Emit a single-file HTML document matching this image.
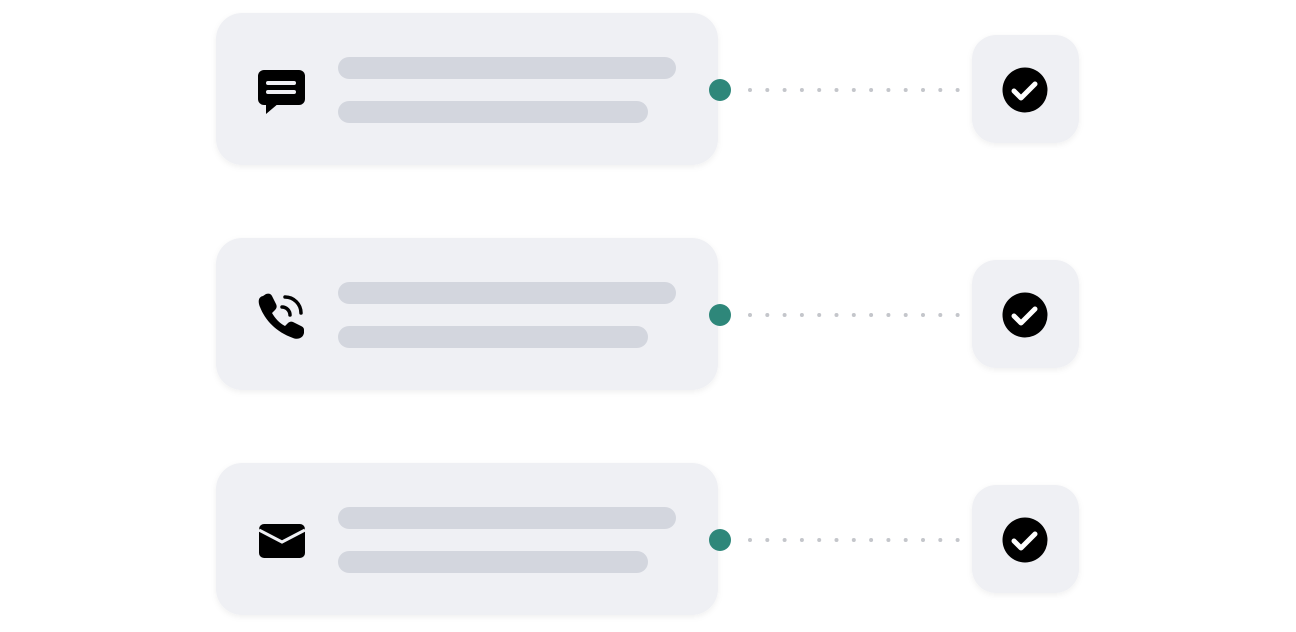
<!DOCTYPE html>
<html><head><meta charset="utf-8"><style>
html,body{margin:0;padding:0;background:#fff;width:1296px;height:632px;overflow:hidden}
</style></head><body>
<svg width="1296" height="632" viewBox="0 0 1296 632" xmlns="http://www.w3.org/2000/svg">
<defs>
<filter id="sh" x="-10%" y="-20%" width="120%" height="140%">
<feDropShadow dx="0" dy="2" stdDeviation="3" flood-color="#000" flood-opacity="0.06"/>
</filter>
<g id="row">
<rect x="216" y="13" width="502" height="152" rx="26" fill="#eff0f4" filter="url(#sh)"/>
<rect x="338" y="57" width="338" height="22" rx="11" fill="#d3d6de"/>
<rect x="338" y="101" width="310" height="22" rx="11" fill="#d3d6de"/>
<circle cx="720" cy="90" r="11" fill="#2e877a"/>
<g fill="#c4c6cb">
<circle cx="750" cy="90" r="2"/><circle cx="767.3" cy="90" r="2"/><circle cx="784.6" cy="90" r="2"/><circle cx="801.9" cy="90" r="2"/><circle cx="819.2" cy="90" r="2"/><circle cx="836.5" cy="90" r="2"/><circle cx="853.8" cy="90" r="2"/><circle cx="871.1" cy="90" r="2"/><circle cx="888.4" cy="90" r="2"/><circle cx="905.7" cy="90" r="2"/><circle cx="923" cy="90" r="2"/><circle cx="940.3" cy="90" r="2"/><circle cx="957.6" cy="90" r="2"/>
</g>
<rect x="972" y="35" width="107" height="108" rx="24" fill="#eff0f4" filter="url(#sh)"/>
<circle cx="1025" cy="90" r="22.5" fill="#000"/>
<path d="M1014 91 L1021 98 L1035 84" stroke="#fff" stroke-width="5" fill="none" stroke-linecap="round" stroke-linejoin="round"/>
</g>
</defs>
<use href="#row"/>
<use href="#row" y="225"/>
<use href="#row" y="450"/>
<!-- chat icon -->
<rect x="258" y="70" width="47" height="35" rx="6" fill="#000"/>
<path d="M266 103 L266 114 L279 103 Z" fill="#000"/>
<rect x="266" y="81" width="30" height="4" rx="2" fill="#eff0f4"/>
<rect x="266" y="90" width="30" height="4" rx="2" fill="#eff0f4"/>
<!-- phone icon -->
<path d="M263 296 C258 297 258 302 260 307 C265 320 276 332 293 338 C298 340 303 338 304 333 L304 330 C304 328 303 327 301 326 L293 322 C291 321 289 322 288 323 L285 326 C279 323 275 318 272 313 L275 310 C277 308 277 306 276 304 L272 296 C271 294 269 293 266 294 Z" fill="#000"/>
<path d="M282 307 A8 8 0 0 1 290 315" stroke="#000" stroke-width="3.5" fill="none" stroke-linecap="round"/>
<path d="M285 297 A16 16 0 0 1 301 313" stroke="#000" stroke-width="3.5" fill="none" stroke-linecap="round"/>
<!-- mail icon -->
<rect x="259" y="524" width="46" height="34" rx="5" fill="#000"/>
<path d="M259 530 L282 542 L305 530" stroke="#eff0f4" stroke-width="3" fill="none"/>
</svg>
</body></html>
